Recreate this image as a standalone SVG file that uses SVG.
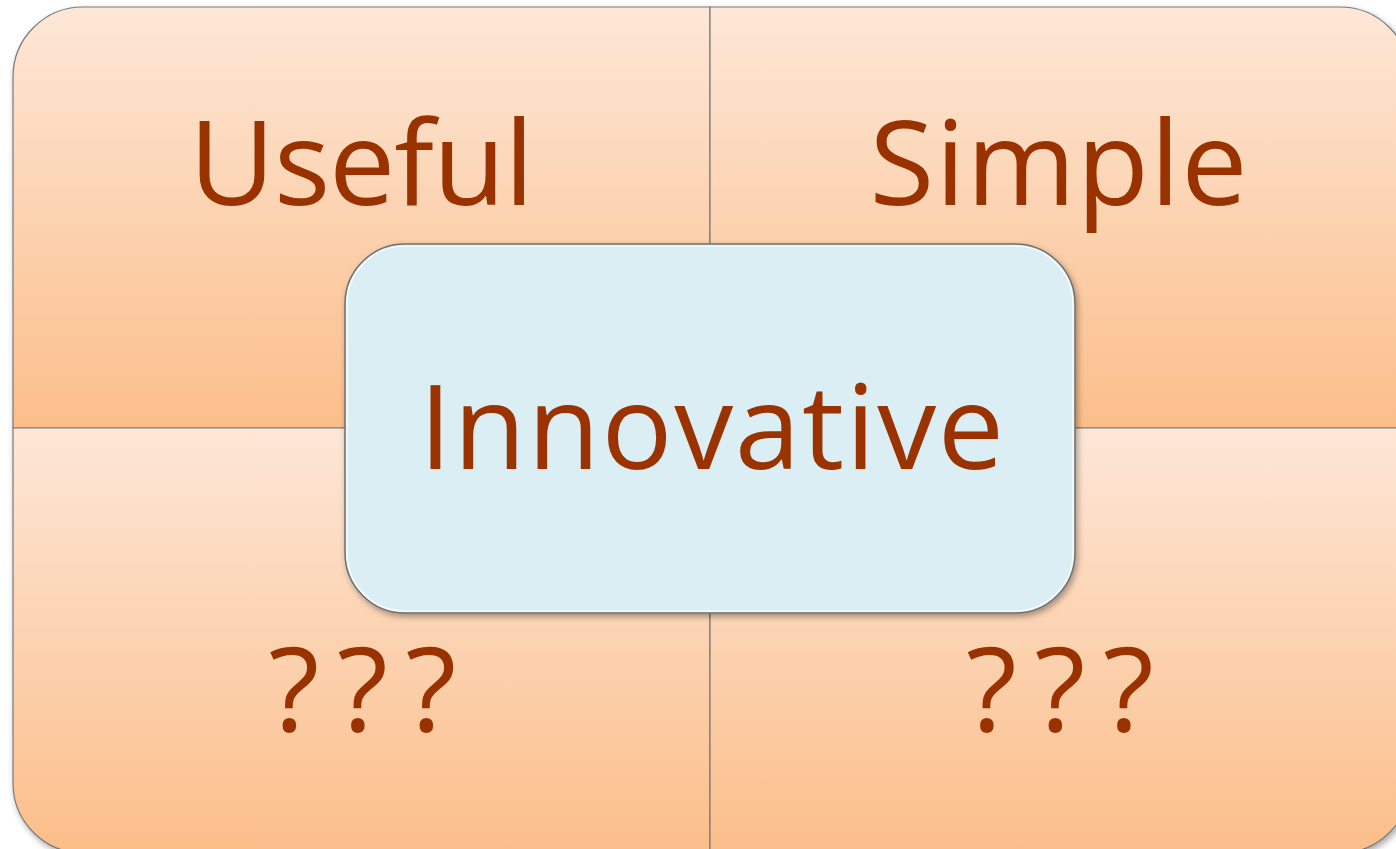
<svg xmlns="http://www.w3.org/2000/svg" width="1396" height="849" viewBox="0 0 1396 849">
  <defs>
    <linearGradient id="orange" x1="0" y1="0" x2="0" y2="1">
      <stop offset="0" stop-color="#FDE7D7"/>
      <stop offset="1" stop-color="#FBBE8A"/>
    </linearGradient>
    <filter id="shadow" x="-5%" y="-5%" width="112%" height="115%">
      <feDropShadow dx="2" dy="3" stdDeviation="3" flood-color="#000" flood-opacity="0.35"/>
    </filter>
  </defs>
  <style>
    .quad { fill: url(#orange); stroke: #7a7a7a; stroke-width: 1.2; }
    .label { font-family: "Open Sans", Lato, "Liberation Sans", sans-serif; font-size: 118px; fill: #9A3300; text-anchor: middle; font-variant-ligatures: none; }
  </style>
  <rect width="1396" height="849" fill="#ffffff"/>
  <g filter="url(#shadow)">
    <g id="node-useful">
      <path class="quad" d="M13,428 V77 A70,70 0 0 1 83,7 H710 V428 Z"/>
      <text class="label" x="361.5" y="205" textLength="345">Useful</text>
    </g>
    <g id="node-simple">
      <path class="quad" d="M710,7 H1340 A70,70 0 0 1 1410,77 V428 H710 Z"/>
      <text class="label" x="1058.5" y="205" textLength="378">Simple</text>
    </g>
    <g id="node-q1">
      <path class="quad" d="M13,428 H710 V853 H83 A70,70 0 0 1 13,783 Z"/>
      <text class="label" x="362.5" y="731" textLength="188">???</text>
    </g>
    <g id="node-q2">
      <path class="quad" d="M710,428 H1410 V783 A70,70 0 0 1 1340,853 H710 Z"/>
      <text class="label" x="1060" y="731" textLength="188">???</text>
    </g>
  </g>
  <g id="connectors"></g>
  <g id="node-innovative">
    <rect x="345" y="244" width="730" height="369" rx="60" ry="60" fill="#DAEEF3" stroke="#6f6f6f" stroke-width="1.5" filter="url(#shadow)"/>
    <rect x="347" y="246" width="726" height="365" rx="58" ry="58" fill="none" stroke="#ffffff" stroke-width="1.2"/>
    <text class="label" x="711.5" y="469" textLength="585">Innovative</text>
  </g>
</svg>
